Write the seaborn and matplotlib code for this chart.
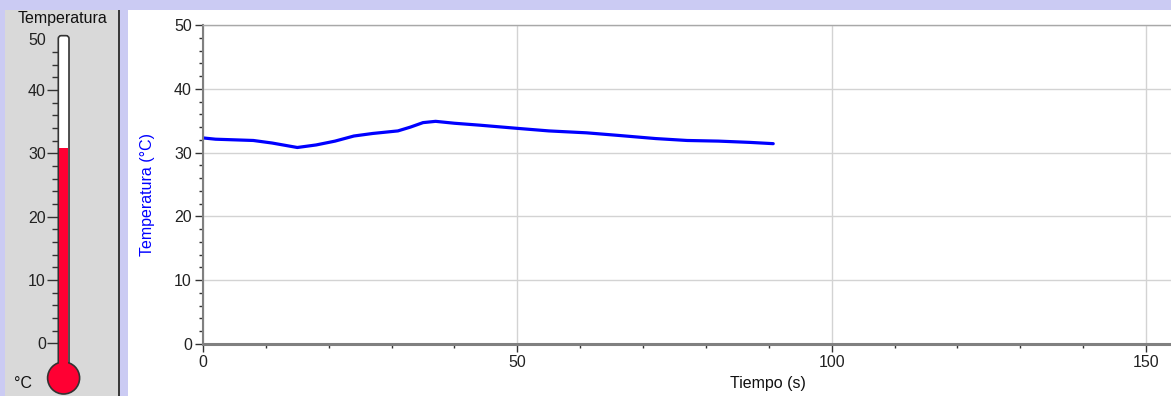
import numpy as np
import seaborn as sns
import matplotlib
matplotlib.use("Agg")
import matplotlib.pyplot as plt
from matplotlib.patches import Rectangle, Ellipse, FancyBboxPatch
from matplotlib.ticker import MultipleLocator, FixedLocator

# Datos
tiempo = [0, 2, 5, 8, 11, 15, 18, 21, 24, 27, 31, 33, 35, 37, 40, 44,
          50, 55, 61, 66, 72, 77, 82, 87, 90.7]
temperatura = [32.3, 32.1, 32.0, 31.9, 31.5, 30.8, 31.2, 31.8, 32.6, 33.0, 33.4, 34.0,
               34.7, 34.9, 34.6, 34.3, 33.8, 33.4, 33.1, 32.7, 32.2, 31.9, 31.8, 31.6, 31.4]
lectura_termometro = 30.9
ticks_termometro = [0, 10, 20, 30, 40]
ticks_menores_termometro = [2, 4, 6, 8, 12, 14, 16, 18, 22, 24, 26, 28,
                            32, 34, 36, 38, 42, 44, 46]
ticks_tiempo = [0, 50, 100, 150]

sns.set_style("white")
plt.rcParams['font.family'] = ['Liberation Sans', 'DejaVu Sans']

W, H = 1171, 396
fig = plt.figure(figsize=(W / 100, H / 100), dpi=100, facecolor='#cbcbf3')

def fx(px):
    return px / W

def fy(py):
    return 1 - py / H

# paneles de fondo
fig.patches.append(Rectangle((fx(5), 0), fx(113), 386 / H, transform=fig.transFigure,
                             facecolor='#d9d9d9', edgecolor='none', zorder=-10))
fig.patches.append(Rectangle((fx(118), 0), fx(2), 386 / H, transform=fig.transFigure,
                             facecolor='#3a3a3a', edgecolor='none', zorder=-10))
fig.patches.append(Rectangle((fx(128), 0), fx(W - 128), 386 / H, transform=fig.transFigure,
                             facecolor='white', edgecolor='none', zorder=-10))

# --- termómetro ---
px_por_grado = 6.33
y0_px = 343.3
t_bottom = -(H - y0_px) / px_por_grado
t_top = (y0_px - 10) / px_por_grado
axt = fig.add_axes([fx(58.3), 0, fx(10.7), 386 / H])
axt.set_facecolor('none')
axt.set_xlim(58.3, 69)
axt.set_ylim(t_bottom, t_top)
for s in axt.spines.values():
    s.set_visible(False)
axt.set_xticks([])
axt.set_yticks(ticks_termometro)
axt.set_yticklabels([str(t) for t in ticks_termometro])
axt.yaxis.set_minor_locator(FixedLocator(ticks_menores_termometro))
axt.tick_params(axis='y', which='major', length=8, width=1, color='#333333',
                labelsize=11.5, labelcolor='#222222', pad=1, left=True)
axt.tick_params(axis='y', which='minor', length=4, width=1, color='#333333', left=True)

tubo_top = 48.6
aspect = 1 / px_por_grado
tubo = FancyBboxPatch((58.3, -4), 10.7, tubo_top + 4,
                      boxstyle="round,pad=0,rounding_size=3", mutation_aspect=aspect,
                      facecolor='white', edgecolor='#333333', lw=1.2, clip_on=False, zorder=2)
axt.add_patch(tubo)
bulbo = Ellipse((63.6, (y0_px - 378) / px_por_grado), 32, 32 * aspect,
                facecolor='#ff0033', edgecolor='#333333', lw=1.2, clip_on=False, zorder=3)
axt.add_patch(bulbo)
axt.add_patch(Rectangle((59.0, -4), 9.3, lectura_termometro + 4, facecolor='#ff0033',
                        edgecolor='none', clip_on=False, zorder=4))
axt.text((46 - 58.3) / 10.7, 47.9, "50", transform=axt.get_yaxis_transform(),
         ha='right', va='center', fontsize=11.5, color='#222222')
fig.text(fx(62), fy(19), "Temperatura", ha='center', va='center', fontsize=11.5, color='#111111')
fig.text(fx(14), fy(384), "°C", ha='left', va='center', fontsize=11.5, color='#111111')

# --- gráfico principal ---
ax = fig.add_axes([fx(203), (H - 344) / H, fx(W - 203), 319 / H])
ax.set_facecolor('none')
sns.lineplot(x=tiempo, y=temperatura, ax=ax, color='#0000ff', lw=2.3)
ax.set_xlim(0, (W - 203) / 6.287)
ax.set_ylim(0, 50)
ax.set_xticks(ticks_tiempo)
ax.set_yticks(range(0, 51, 10))
ax.xaxis.set_minor_locator(MultipleLocator(10))
ax.yaxis.set_minor_locator(MultipleLocator(2))
ax.tick_params(axis='both', which='major', length=6, width=1, color='#333333',
               labelsize=11.5, labelcolor='#222222', pad=2, bottom=True, left=True)
ax.tick_params(axis='both', which='minor', length=3, width=1, color='#333333',
               bottom=True, left=True)
ax.grid(True, which='major', color='#d3d3d3', lw=1)
ax.set_axisbelow(True)
ax.spines['left'].set_color('#808080')
ax.spines['left'].set_linewidth(1.5)
ax.spines['bottom'].set_color('#808080')
ax.spines['bottom'].set_linewidth(2.2)
ax.spines['top'].set_color('#a8a8a8')
ax.spines['top'].set_linewidth(1)
ax.spines['right'].set_visible(False)

ax.set_xlabel("Tiempo (s)", fontsize=11.5, color='#111111')
ax.xaxis.set_label_coords((768 - 203) / (W - 203), -(376 - 344) / 319)
ax.set_ylabel("Temperatura (°C)", fontsize=11.5, color='#0000ff')
ax.yaxis.set_label_coords((155 - 203) / (W - 203), (344 - 195) / 319)

fig.savefig("out.png", dpi=100, facecolor=fig.get_facecolor())
